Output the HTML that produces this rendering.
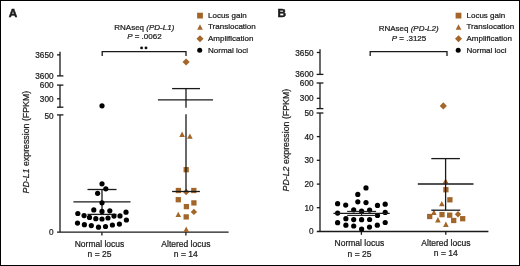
<!DOCTYPE html>
<html><head><meta charset="utf-8"><title>PD-L1 / PD-L2 RNAseq</title>
<style>
html,body{margin:0;padding:0;background:#fff;}
body{width:520px;height:266px;overflow:hidden;}
svg{display:block;will-change:transform;}
text{font-family:"Liberation Sans",sans-serif;fill:#1a1a1a;stroke:#1a1a1a;stroke-width:0.22px;}
</style></head><body>
<svg width="520" height="266" viewBox="0 0 520 266">
<rect x="0" y="0" width="520" height="266" fill="#fff"/>
<text x="8.8" y="17" font-size="11.8" font-weight="bold" style="stroke-width:0.5px">A</text>
<rect x="197.10" y="12.70" width="5.8" height="5.8" fill="#a3662a"/>
<path d="M200 24.20L202.80 29.80L197.20 29.80Z" fill="#a3662a"/>
<path d="M200 35.3L203.5 38.8L200 42.3L196.5 38.8Z" fill="#a3662a"/>
<circle cx="199.7" cy="50.3" r="2.5" fill="#000"/>
<text x="208" y="17.7" font-size="8" text-anchor="start" >Locus gain</text>
<text x="208" y="29.4" font-size="8" text-anchor="start" >Translocation</text>
<text x="208" y="41.0" font-size="8" text-anchor="start" >Amplification</text>
<text x="208" y="52.7" font-size="8" text-anchor="start" >Normal loci</text>
<text x="144.3" y="30.3" font-size="8" text-anchor="middle" >RNAseq <tspan font-style="italic">(PD-L1)</tspan></text>
<text x="144.4" y="38.9" font-size="8" text-anchor="middle" ><tspan font-style="italic">P</tspan> = .0062</text>
<circle cx="141.6" cy="47.9" r="1.45" fill="#111"/><circle cx="146" cy="47.9" r="1.45" fill="#111"/>
<path d="M102.2 56V51.7H186V56" fill="none" stroke="#1a1a1a" stroke-width="1.3"/>
<line x1="60" y1="51.8" x2="60" y2="75.9" stroke="#1a1a1a" stroke-width="1.3"/>
<line x1="57" y1="54.9" x2="60" y2="54.9" stroke="#1a1a1a" stroke-width="1.3"/>
<line x1="57" y1="75.9" x2="63.4" y2="75.9" stroke="#1a1a1a" stroke-width="1.3"/>
<line x1="60" y1="85.1" x2="60" y2="107.2" stroke="#1a1a1a" stroke-width="1.3"/>
<line x1="57" y1="85.1" x2="63.4" y2="85.1" stroke="#1a1a1a" stroke-width="1.3"/>
<line x1="57" y1="98.8" x2="60" y2="98.8" stroke="#1a1a1a" stroke-width="1.3"/>
<line x1="57" y1="107.2" x2="63.4" y2="107.2" stroke="#1a1a1a" stroke-width="1.3"/>
<line x1="60" y1="114.9" x2="60" y2="232.2" stroke="#1a1a1a" stroke-width="1.3"/>
<line x1="57" y1="114.9" x2="63.4" y2="114.9" stroke="#1a1a1a" stroke-width="1.3"/>
<line x1="57" y1="232.2" x2="228.6" y2="232.2" stroke="#1a1a1a" stroke-width="1.3"/>
<line x1="101.9" y1="232.2" x2="101.9" y2="235.6" stroke="#1a1a1a" stroke-width="1.3"/>
<line x1="185.9" y1="232.2" x2="185.9" y2="235.6" stroke="#1a1a1a" stroke-width="1.3"/>
<text x="53.5" y="57.93" font-size="8.2" text-anchor="end" >3650</text>
<text x="53.5" y="79.33000000000001" font-size="8.2" text-anchor="end" >3600</text>
<text x="53.5" y="88.43" font-size="8.2" text-anchor="end" >600</text>
<text x="53.5" y="101.93" font-size="8.2" text-anchor="end" >300</text>
<text x="53.5" y="118.63000000000001" font-size="8.2" text-anchor="end" >50</text>
<text x="53.5" y="234.93" font-size="8.2" text-anchor="end" >0</text>
<text transform="translate(29 142.1) rotate(-90)" font-size="8.8" text-anchor="middle"><tspan font-style="italic">PD-L1</tspan> expression (FPKM)</text>
<text x="99.5" y="247" font-size="8.5" text-anchor="middle" >Normal locus</text>
<text x="99.5" y="257.3" font-size="8.5" text-anchor="middle" >n = 25</text>
<text x="185.9" y="247" font-size="8.5" text-anchor="middle" >Altered locus</text>
<text x="185.8" y="257.3" font-size="8.5" text-anchor="middle" >n = 14</text>
<line x1="102" y1="189.5" x2="102" y2="214.4" stroke="#1a1a1a" stroke-width="1.3"/>
<line x1="87.5" y1="189.5" x2="116.5" y2="189.5" stroke="#1a1a1a" stroke-width="1.3"/>
<line x1="73.4" y1="201.8" x2="130.5" y2="201.8" stroke="#1a1a1a" stroke-width="1.3"/>
<line x1="87.5" y1="214.4" x2="116.5" y2="214.4" stroke="#1a1a1a" stroke-width="1.3"/>
<circle cx="102" cy="105.8" r="2.6" fill="#000"/>
<circle cx="102" cy="183.8" r="2.6" fill="#000"/>
<circle cx="105.8" cy="188.8" r="2.6" fill="#000"/>
<circle cx="97.6" cy="193.3" r="2.6" fill="#000"/>
<circle cx="102" cy="202.8" r="2.6" fill="#000"/>
<circle cx="93.8" cy="209.9" r="2.6" fill="#000"/>
<circle cx="102" cy="211.4" r="2.6" fill="#000"/>
<circle cx="109.8" cy="210.8" r="2.6" fill="#000"/>
<circle cx="126" cy="212.2" r="2.6" fill="#000"/>
<circle cx="77.8" cy="213.5" r="2.6" fill="#000"/>
<circle cx="84.1" cy="215.6" r="2.6" fill="#000"/>
<circle cx="89.5" cy="217.4" r="2.6" fill="#000"/>
<circle cx="95.8" cy="218.7" r="2.6" fill="#000"/>
<circle cx="102" cy="219" r="2.6" fill="#000"/>
<circle cx="108" cy="218" r="2.6" fill="#000"/>
<circle cx="114" cy="216.1" r="2.6" fill="#000"/>
<circle cx="120" cy="215.9" r="2.6" fill="#000"/>
<circle cx="126.4" cy="220" r="2.6" fill="#000"/>
<circle cx="77.5" cy="223.1" r="2.6" fill="#000"/>
<circle cx="84.4" cy="224.7" r="2.6" fill="#000"/>
<circle cx="91.3" cy="225.6" r="2.6" fill="#000"/>
<circle cx="98.5" cy="227.2" r="2.6" fill="#000"/>
<circle cx="105.5" cy="226.5" r="2.6" fill="#000"/>
<circle cx="112.4" cy="225" r="2.6" fill="#000"/>
<circle cx="119.4" cy="224.1" r="2.6" fill="#000"/>
<path d="M186.1 58.4L189.7 62L186.1 65.6L182.5 62Z" fill="#a3662a"/>
<path d="M182.1 131.50L184.90 136.90L179.30 136.90Z" fill="#a3662a"/>
<path d="M189.9 133.40L192.70 138.80L187.10 138.80Z" fill="#a3662a"/>
<rect x="183.55" y="167.05" width="5.3" height="5.3" fill="#a3662a"/>
<rect x="175.75" y="187.85" width="5.3" height="5.3" fill="#a3662a"/>
<rect x="191.15" y="187.85" width="5.3" height="5.3" fill="#a3662a"/>
<path d="M186.2 188.8L189.39999999999998 192.0L186.2 195.2L183.0 192.0Z" fill="#a3662a"/>
<rect x="175.65" y="197.05" width="5.3" height="5.3" fill="#a3662a"/>
<rect x="191.25" y="200.25" width="5.3" height="5.3" fill="#a3662a"/>
<rect x="183.75" y="203.95" width="5.3" height="5.3" fill="#a3662a"/>
<path d="M193.9 208.70000000000002L197.1 211.9L193.9 215.1L190.70000000000002 211.9Z" fill="#a3662a"/>
<path d="M178.3 211.65L181.10 217.05L175.50 217.05Z" fill="#a3662a"/>
<rect x="183.55" y="214.25" width="5.3" height="5.3" fill="#a3662a"/>
<path d="M186.2 226.50L189.00 231.90L183.40 231.90Z" fill="#a3662a"/>
<line x1="186" y1="88.6" x2="186" y2="107.8" stroke="#1a1a1a" stroke-width="1.3"/>
<line x1="186" y1="114.3" x2="186" y2="191.5" stroke="#1a1a1a" stroke-width="1.3"/>
<line x1="172.1" y1="88.6" x2="200" y2="88.6" stroke="#1a1a1a" stroke-width="1.3"/>
<line x1="157.9" y1="99.8" x2="213" y2="99.8" stroke="#1a1a1a" stroke-width="1.3"/>
<line x1="172.1" y1="191.5" x2="199.9" y2="191.5" stroke="#1a1a1a" stroke-width="1.3"/>
<text x="277.4" y="17" font-size="11.8" font-weight="bold" style="stroke-width:0.5px">B</text>
<rect x="455.60" y="12.70" width="5.8" height="5.8" fill="#a3662a"/>
<path d="M458.5 24.20L461.30 29.80L455.70 29.80Z" fill="#a3662a"/>
<path d="M458.5 35.3L462.0 38.8L458.5 42.3L455.0 38.8Z" fill="#a3662a"/>
<circle cx="458.2" cy="50.3" r="2.5" fill="#000"/>
<text x="466.5" y="17.7" font-size="8" text-anchor="start" >Locus gain</text>
<text x="466.5" y="29.4" font-size="8" text-anchor="start" >Translocation</text>
<text x="466.5" y="41.0" font-size="8" text-anchor="start" >Amplification</text>
<text x="466.5" y="52.7" font-size="8" text-anchor="start" >Normal loci</text>
<text x="408.65" y="31.3" font-size="8" text-anchor="middle" >RNAseq <tspan font-style="italic">(PD-L2)</tspan></text>
<text x="409" y="40.8" font-size="8" text-anchor="middle" ><tspan font-style="italic">P</tspan> = .3125</text>
<path d="M370.2 56V51.7H447V56" fill="none" stroke="#1a1a1a" stroke-width="1.3"/>
<line x1="320" y1="49.2" x2="320" y2="74.4" stroke="#1a1a1a" stroke-width="1.3"/>
<line x1="316.8" y1="52.5" x2="320" y2="52.5" stroke="#1a1a1a" stroke-width="1.3"/>
<line x1="316.6" y1="74.4" x2="323.4" y2="74.4" stroke="#1a1a1a" stroke-width="1.3"/>
<line x1="320" y1="83.0" x2="320" y2="108.6" stroke="#1a1a1a" stroke-width="1.3"/>
<line x1="316.6" y1="83.0" x2="323.4" y2="83.0" stroke="#1a1a1a" stroke-width="1.3"/>
<line x1="316.8" y1="98.3" x2="320" y2="98.3" stroke="#1a1a1a" stroke-width="1.3"/>
<line x1="316.6" y1="108.6" x2="323.4" y2="108.6" stroke="#1a1a1a" stroke-width="1.3"/>
<line x1="320" y1="113.0" x2="320" y2="231.5" stroke="#1a1a1a" stroke-width="1.3"/>
<line x1="316.6" y1="113.0" x2="323.4" y2="113.0" stroke="#1a1a1a" stroke-width="1.3"/>
<line x1="316.8" y1="136.6" x2="320" y2="136.6" stroke="#1a1a1a" stroke-width="1.3"/>
<line x1="316.8" y1="160.3" x2="320" y2="160.3" stroke="#1a1a1a" stroke-width="1.3"/>
<line x1="316.8" y1="184.1" x2="320" y2="184.1" stroke="#1a1a1a" stroke-width="1.3"/>
<line x1="316.8" y1="207.7" x2="320" y2="207.7" stroke="#1a1a1a" stroke-width="1.3"/>
<line x1="316.8" y1="231.5" x2="488.4" y2="231.5" stroke="#1a1a1a" stroke-width="1.3"/>
<line x1="361.4" y1="231.5" x2="361.4" y2="234.8" stroke="#1a1a1a" stroke-width="1.3"/>
<line x1="445.8" y1="231.5" x2="445.8" y2="234.8" stroke="#1a1a1a" stroke-width="1.3"/>
<text x="313.5" y="55.53" font-size="8.2" text-anchor="end" >3650</text>
<text x="313.5" y="77.13000000000001" font-size="8.2" text-anchor="end" >3600</text>
<text x="313.5" y="86.43" font-size="8.2" text-anchor="end" >600</text>
<text x="313.5" y="101.23" font-size="8.2" text-anchor="end" >300</text>
<text x="313.5" y="115.93" font-size="8.2" text-anchor="end" >50</text>
<text x="313.5" y="140.23000000000002" font-size="8.2" text-anchor="end" >40</text>
<text x="313.5" y="163.43" font-size="8.2" text-anchor="end" >30</text>
<text x="313.5" y="187.13" font-size="8.2" text-anchor="end" >20</text>
<text x="313.5" y="210.73000000000002" font-size="8.2" text-anchor="end" >10</text>
<text x="313.5" y="234.43" font-size="8.2" text-anchor="end" >0</text>
<text transform="translate(288.5 140.1) rotate(-90)" font-size="8.8" text-anchor="middle"><tspan font-style="italic">PD-L2</tspan> expression (FPKM)</text>
<text x="359.4" y="246.1" font-size="8.5" text-anchor="middle" >Normal locus</text>
<text x="359.5" y="256.5" font-size="8.5" text-anchor="middle" >n = 25</text>
<text x="445.9" y="246.1" font-size="8.5" text-anchor="middle" >Altered locus</text>
<text x="445.75" y="256.4" font-size="8.5" text-anchor="middle" >n = 14</text>
<circle cx="366" cy="187.9" r="2.6" fill="#000"/>
<circle cx="357.8" cy="194.4" r="2.6" fill="#000"/>
<circle cx="357.8" cy="201.8" r="2.6" fill="#000"/>
<circle cx="366" cy="202.6" r="2.6" fill="#000"/>
<circle cx="337.6" cy="203.7" r="2.6" fill="#000"/>
<circle cx="345.7" cy="205.1" r="2.6" fill="#000"/>
<circle cx="377.5" cy="205.4" r="2.6" fill="#000"/>
<circle cx="385.2" cy="204.2" r="2.6" fill="#000"/>
<circle cx="353.7" cy="209.8" r="2.6" fill="#000"/>
<circle cx="369.6" cy="210.1" r="2.6" fill="#000"/>
<circle cx="361.6" cy="211.2" r="2.6" fill="#000"/>
<circle cx="385.2" cy="212.4" r="2.6" fill="#000"/>
<circle cx="337.6" cy="213.1" r="2.6" fill="#000"/>
<circle cx="377.5" cy="215.5" r="2.6" fill="#000"/>
<circle cx="345.9" cy="218.7" r="2.6" fill="#000"/>
<circle cx="353.7" cy="219.6" r="2.6" fill="#000"/>
<circle cx="361.6" cy="219.7" r="2.6" fill="#000"/>
<circle cx="369.6" cy="219.5" r="2.6" fill="#000"/>
<circle cx="337.6" cy="222.7" r="2.6" fill="#000"/>
<circle cx="385.2" cy="222.5" r="2.6" fill="#000"/>
<circle cx="345.9" cy="225.2" r="2.6" fill="#000"/>
<circle cx="353.7" cy="226" r="2.6" fill="#000"/>
<circle cx="377.3" cy="225.2" r="2.6" fill="#000"/>
<circle cx="369.5" cy="227.1" r="2.6" fill="#000"/>
<circle cx="361.6" cy="229" r="2.6" fill="#000"/>
<line x1="361.6" y1="211.4" x2="361.6" y2="215.4" stroke="#1a1a1a" stroke-width="1.1"/>
<line x1="347.2" y1="211.4" x2="376.1" y2="211.4" stroke="#1a1a1a" stroke-width="1.1"/>
<line x1="333.4" y1="213.3" x2="389.7" y2="213.3" stroke="#1a1a1a" stroke-width="1.15"/>
<line x1="347.2" y1="215.4" x2="376.1" y2="215.4" stroke="#1a1a1a" stroke-width="1.1"/>
<path d="M443.3 102.30000000000001L446.90000000000003 105.9L443.3 109.5L439.7 105.9Z" fill="#a3662a"/>
<path d="M445.6 178.20L448.40 183.60L442.80 183.60Z" fill="#a3662a"/>
<rect x="443.25" y="187.05" width="5.3" height="5.3" fill="#a3662a"/>
<rect x="447.25" y="197.15" width="5.3" height="5.3" fill="#a3662a"/>
<path d="M441.8 200.90L444.60 206.30L439.00 206.30Z" fill="#a3662a"/>
<path d="M433.9 209.60L436.70 215.00L431.10 215.00Z" fill="#a3662a"/>
<rect x="427.05" y="213.85" width="5.3" height="5.3" fill="#a3662a"/>
<rect x="439.35" y="211.95" width="5.3" height="5.3" fill="#a3662a"/>
<rect x="447.05" y="212.55" width="5.3" height="5.3" fill="#a3662a"/>
<path d="M458 211.10000000000002L461.2 214.3L458 217.5L454.8 214.3Z" fill="#a3662a"/>
<rect x="451.05" y="217.85" width="5.3" height="5.3" fill="#a3662a"/>
<rect x="460.05" y="216.05" width="5.3" height="5.3" fill="#a3662a"/>
<path d="M437.9 217.10L440.70 222.50L435.10 222.50Z" fill="#a3662a"/>
<path d="M445.9 221.55L448.70 226.95L443.10 226.95Z" fill="#a3662a"/>
<line x1="445.6" y1="158.6" x2="445.6" y2="210.2" stroke="#1a1a1a" stroke-width="1.3"/>
<line x1="431.3" y1="158.6" x2="459.9" y2="158.6" stroke="#1a1a1a" stroke-width="1.3"/>
<line x1="417.8" y1="184.0" x2="473.5" y2="184.0" stroke="#1a1a1a" stroke-width="1.3"/>
<line x1="431.3" y1="210.2" x2="460.2" y2="210.2" stroke="#1a1a1a" stroke-width="1.3"/>
<rect x="0.5" y="0.5" width="519" height="265" fill="none" stroke="#000" stroke-width="1"/>
</svg>
</body></html>
